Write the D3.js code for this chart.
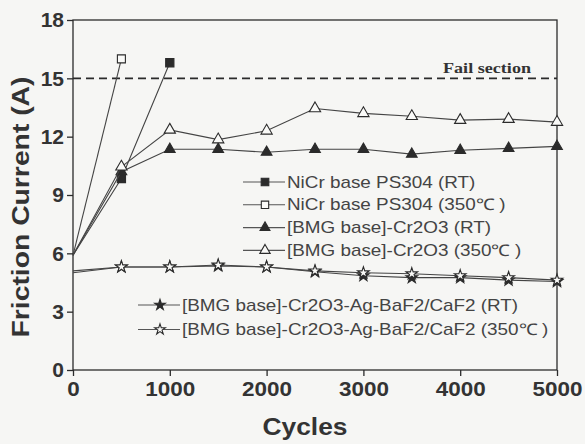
<!DOCTYPE html>
<html>
<head>
<meta charset="utf-8">
<script src="https://cdn.jsdelivr.net/npm/d3@7"></script>
<style>
  body { margin: 0; background: #f6f6f4; }
  svg { display: block; font-family: "Liberation Sans", Arial, sans-serif; }
</style>
</head>
<body>
<div id="chart"></div>
<script>
// Data
const cycles = [0, 500, 1000, 1500, 2000, 2500, 3000, 3500, 4000, 4500, 5000];
const nicrRT = [5.9, 9.85, 15.8];
const nicr350 = [5.9, 16.0];
const cr2o3RT = [5.9, 10.2, 11.35, 11.35, 11.2, 11.35, 11.35, 11.1, 11.3, 11.4, 11.5];
const cr2o3350 = [5.9, 10.45, 12.35, 11.85, 12.3, 13.45, 13.2, 13.05, 12.85, 12.9, 12.75];
const lubeRT = [5.0, 5.3, 5.3, 5.35, 5.3, 5.05, 4.85, 4.75, 4.75, 4.62, 4.55];
const lube350 = [5.1, 5.3, 5.3, 5.4, 5.3, 5.1, 5.0, 4.95, 4.85, 4.75, 4.62];
const seriesNames = [
  "NiCr base PS304 (RT)",
  "NiCr base PS304 (350\u2103 )",
  "[BMG base]-Cr2O3 (RT)",
  "[BMG base]-Cr2O3 (350\u2103 )",
  "[BMG base]-Cr2O3-Ag-BaF2/CaF2 (RT)",
  "[BMG base]-Cr2O3-Ag-BaF2/CaF2 (350\u2103 )"
];
const xTicks = [0, 1000, 2000, 3000, 4000, 5000];
const yTicks = [0, 3, 6, 9, 12, 15, 18];
const failLevel = 15;

const W = 585, H = 444;
const margin = { top: 20, right: 28, bottom: 74, left: 73 };
const width = W - margin.left - margin.right;
const height = H - margin.top - margin.bottom;
const ink = "#2b2b2b";
const paper = "#fafaf8";

const svg = d3.select("#chart").append("svg")
  .attr("width", W).attr("height", H);

const g = svg.append("g")
  .attr("transform", `translate(${margin.left},${margin.top})`);

const x = d3.scaleLinear().domain([0, 5000]).range([0, width]);
const y = d3.scaleLinear().domain([0, 18]).range([height, 0]);

// frame
g.append("rect")
  .attr("width", width).attr("height", height)
  .attr("fill", "none").attr("stroke", ink).attr("stroke-width", 1.3);

// axes
const xAxis = g.append("g")
  .attr("transform", `translate(0,${height})`)
  .call(d3.axisBottom(x).tickValues(xTicks).tickSize(6).tickPadding(5).tickFormat(d3.format("d")));
const yAxis = g.append("g")
  .call(d3.axisLeft(y).tickValues(yTicks).tickSize(6).tickPadding(3));
[xAxis, yAxis].forEach(a => {
  a.select(".domain").remove();
  a.selectAll("line").attr("stroke", ink).attr("stroke-width", 1.3);
  a.selectAll("text")
    .attr("fill", "#333")
    .style("font-size", "21px")
    .style("font-weight", "bold");
});
xAxis.selectAll("text").attr("textLength", d => String(d).length * 12.5)
  .attr("lengthAdjust", "spacingAndGlyphs");

// axis titles
svg.append("text")
  .attr("x", 305).attr("y", 435)
  .attr("text-anchor", "middle")
  .attr("textLength", 85).attr("lengthAdjust", "spacingAndGlyphs")
  .style("font-size", "24px").style("font-weight", "bold").attr("fill", "#333")
  .text("Cycles");
svg.append("text")
  .attr("transform", `translate(29,207) rotate(-90)`)
  .attr("text-anchor", "middle")
  .attr("textLength", 261).attr("lengthAdjust", "spacingAndGlyphs")
  .style("font-size", "23px").style("font-weight", "bold").attr("fill", "#333")
  .text("Friction Current (A)");

// fail line
g.append("line")
  .attr("x1", 0).attr("x2", width)
  .attr("y1", y(failLevel)).attr("y2", y(failLevel))
  .attr("stroke", ink).attr("stroke-width", 1.6).attr("stroke-dasharray", "8,5");
g.append("text")
  .attr("x", width - 26).attr("y", y(failLevel) - 5)
  .attr("text-anchor", "end")
  .attr("textLength", 88).attr("lengthAdjust", "spacingAndGlyphs")
  .style("font-family", "'Liberation Serif', 'Times New Roman', serif")
  .style("font-size", "15px").style("font-weight", "bold").attr("fill", "#333")
  .text("Fail section");

const series = [
  { name: seriesNames[0], values: nicrRT, sym: d3.symbolSquare, size: 68, fill: true },
  { name: seriesNames[1], values: nicr350, sym: d3.symbolSquare, size: 64, fill: false },
  { name: seriesNames[2], values: cr2o3RT, sym: d3.symbolTriangle, size: 50, fill: true },
  { name: seriesNames[3], values: cr2o3350, sym: d3.symbolTriangle, size: 55, fill: false },
  { name: seriesNames[4], values: lubeRT, sym: d3.symbolStar, size: 42, fill: true },
  { name: seriesNames[5], values: lube350, sym: d3.symbolStar, size: 42, fill: false }
];

const line = d3.line().x(d => x(d[0])).y(d => y(d[1]));

series.forEach(s => {
  const pts = s.values.map((v, i) => [cycles[i], v]);
  g.append("path")
    .datum(pts)
    .attr("fill", "none").attr("stroke", "#444").attr("stroke-width", 1.1)
    .attr("d", line);
  g.selectAll(null)
    .data(pts.filter(p => p[0] > 0))
    .enter().append("path")
    .attr("transform", d => `translate(${x(d[0])},${y(d[1])})`)
    .attr("d", d3.symbol().type(s.sym).size(s.size))
    .attr("fill", s.fill ? ink : paper)
    .attr("stroke", ink).attr("stroke-width", 1.1);
});

// legends
function legend(items, lx, ly, step) {
  const lg = svg.append("g").attr("transform", `translate(${lx},${ly})`);
  items.forEach((s, i) => {
    const row = lg.append("g").attr("transform", `translate(0,${i * step})`);
    row.append("line").attr("x1", 0).attr("x2", 42)
      .attr("stroke", "#555").attr("stroke-width", 1.1);
    row.append("path")
      .attr("transform", "translate(22,0)")
      .attr("d", d3.symbol().type(s.sym).size(s.size * 0.85))
      .attr("fill", s.fill ? ink : paper)
      .attr("stroke", ink).attr("stroke-width", 1.1);
    row.append("text")
      .attr("transform", "translate(44,0) scale(1.18,1)")
      .attr("dy", "0.35em")
      .style("font-size", "16px").attr("fill", "#444")
      .text(s.name);
  });
}
legend(series.slice(0, 4), 243, 182, 22.8);
legend(series.slice(4), 138, 305, 24.5);
</script>
</body>
</html>
